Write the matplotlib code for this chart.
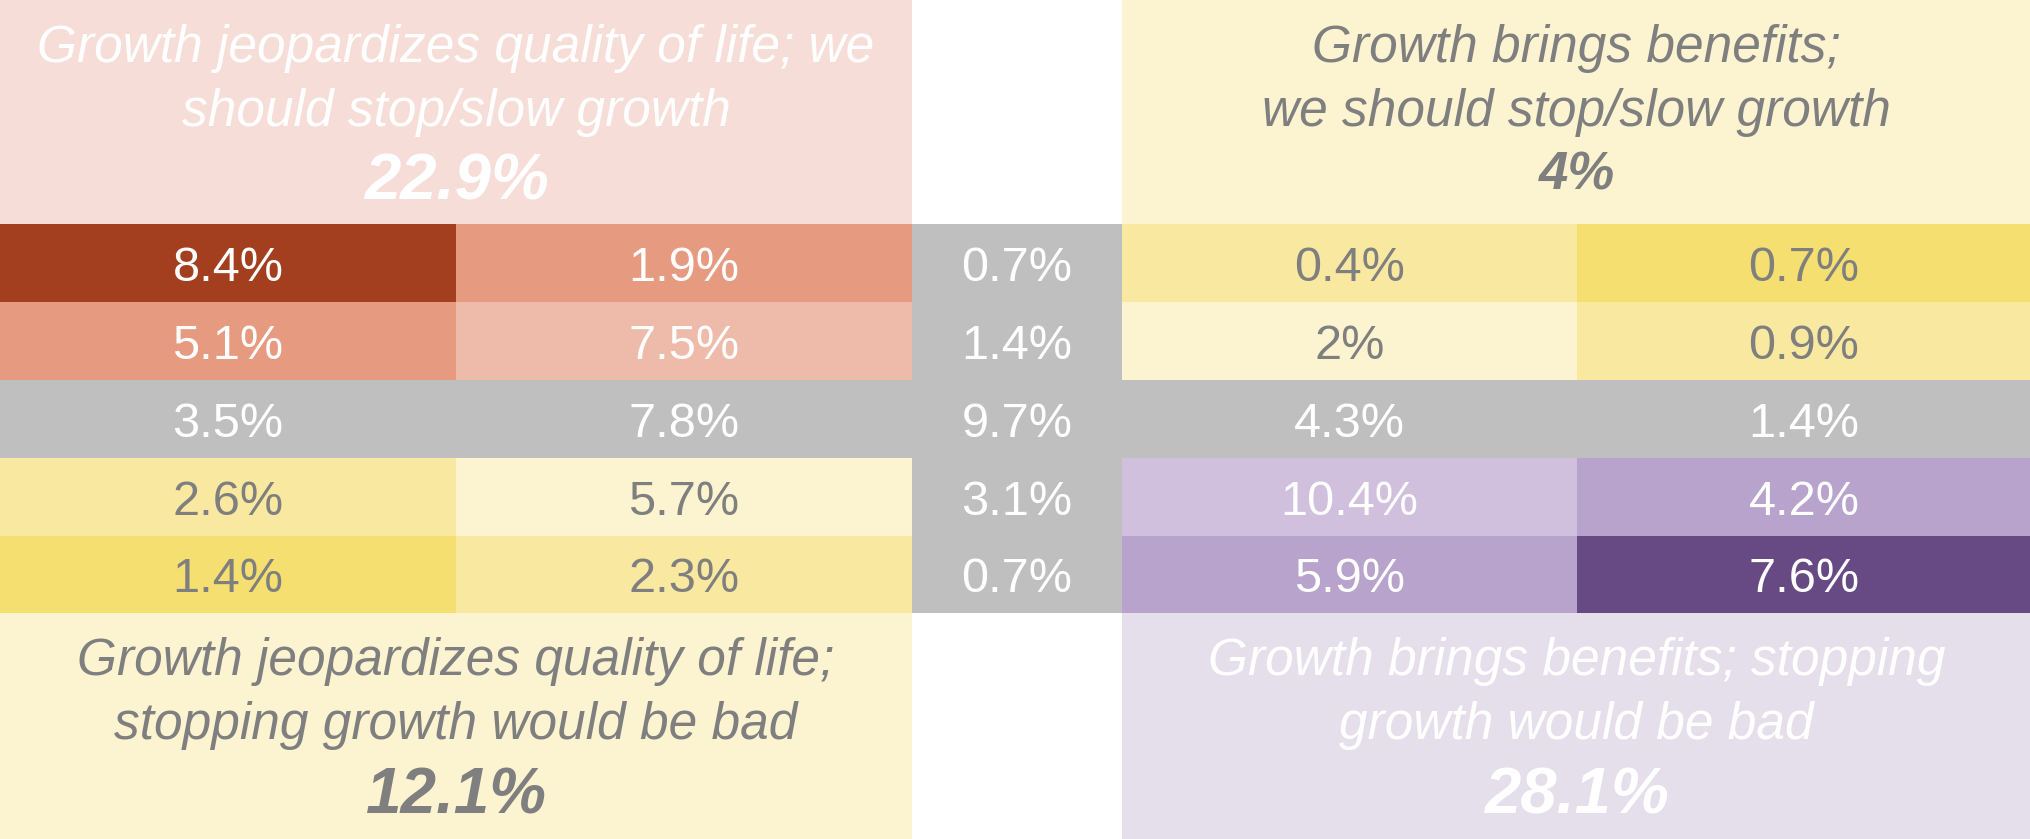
import matplotlib
matplotlib.use("Agg")
import matplotlib.pyplot as plt
from matplotlib.patches import Rectangle

# cell values (percent), rows top->bottom, columns left->right
row1 = [8.4, 1.9, 0.7, 0.4, 0.7]
row2 = [5.1, 7.5, 1.4, 2, 0.9]
row3 = [3.5, 7.8, 9.7, 4.3, 1.4]
row4 = [2.6, 5.7, 3.1, 10.4, 4.2]
row5 = [1.4, 2.3, 0.7, 5.9, 7.6]
values = [row1, row2, row3, row4, row5]

# quadrant labels and totals
quad_labels = [
    "Growth jeopardizes quality of life; we\nshould stop/slow growth",
    "Growth brings benefits;\nwe should stop/slow growth",
    "Growth jeopardizes quality of life;\nstopping growth would be bad",
    "Growth brings benefits; stopping\ngrowth would be bad",
]
quad_totals = [22.9, 4, 12.1, 28.1]

# styles
GRAY = "#BFBFBF"
TXT_GRAY = "#7F7F7F"
cell_colors = [
    ["#A33F1F", "#E69A80", GRAY, "#F9E8A0", "#F5DF70"],
    ["#E69A80", "#EEBBAA", GRAY, "#FCF3D0", "#F9E8A0"],
    [GRAY, GRAY, GRAY, GRAY, GRAY],
    ["#F9E8A0", "#FCF3D0", GRAY, "#D0C0DE", "#B8A3CC"],
    ["#F5DF70", "#F9E8A0", GRAY, "#B8A3CC", "#674A84"],
]
text_colors = [
    ["white", "white", "white", TXT_GRAY, TXT_GRAY],
    ["white", "white", "white", TXT_GRAY, TXT_GRAY],
    ["white", "white", "white", "white", "white"],
    [TXT_GRAY, TXT_GRAY, "white", "white", "white"],
    [TXT_GRAY, TXT_GRAY, "white", "white", "white"],
]
quad_bg = ["#F7DDD8", "#FCF3D0", "#FCF3D0", "#E5DFEC"]
quad_fg = ["white", TXT_GRAY, TXT_GRAY, "white"]
quad_total_size = [47, 38, 46, 47]
quad_total_base = [200, 190, 201, 201]

# layout (pixels)
col_edges = [0, 456, 912, 1122, 1577, 2031]
row_edges = [224, 302, 380, 458, 536, 613]
quad_boxes = [(0, 0, 912, 224), (1122, 0, 909, 224),
              (0, 613, 912, 226), (1122, 613, 909, 226)]

plt.rcParams['font.family'] = ['Liberation Sans', 'DejaVu Sans']
fig = plt.figure(figsize=(20.31, 8.39), dpi=100)
ax = fig.add_axes([0, 0, 1, 1])
ax.set_xlim(0, 2031)
ax.set_ylim(839, 0)
ax.axis('off')

# grid cells
for i, row in enumerate(values):
    y0, y1 = row_edges[i], row_edges[i + 1]
    for j, v in enumerate(row):
        x0, x1 = col_edges[j], col_edges[j + 1]
        ax.add_patch(Rectangle((x0, y0), x1 - x0, y1 - y0,
                               facecolor=cell_colors[i][j], edgecolor='none'))
        ax.text((x0 + x1) / 2, (y0 + y1) / 2 + 18, f"{v:g}%",
                ha='center', va='baseline', fontsize=35,
                color=text_colors[i][j])

# quadrant boxes
for k, (x, y, w, h) in enumerate(quad_boxes):
    ax.add_patch(Rectangle((x, y), w, h, facecolor=quad_bg[k], edgecolor='none'))
    cx = x + w / 2
    line1, line2 = quad_labels[k].split("\n")
    ax.text(cx, y + 62, line1, ha='center', va='baseline',
            fontsize=37, style='italic', color=quad_fg[k])
    ax.text(cx, y + 126, line2, ha='center', va='baseline',
            fontsize=37, style='italic', color=quad_fg[k])
    ax.text(cx, y + quad_total_base[k], f"{quad_totals[k]:g}%", ha='center',
            va='baseline', fontsize=quad_total_size[k], style='italic',
            weight='bold', color=quad_fg[k])

fig.savefig("out.png", dpi=100)
